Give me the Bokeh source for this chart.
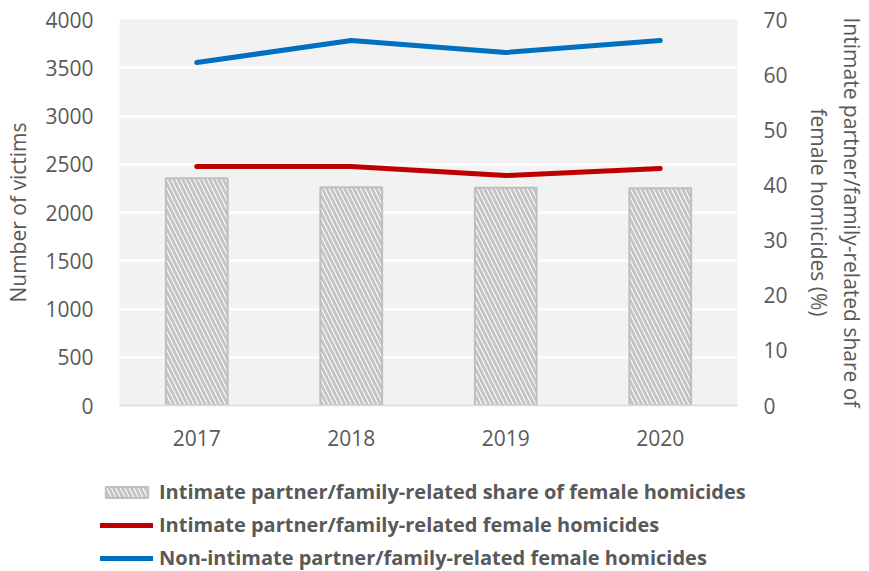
from bokeh.plotting import figure
from bokeh.layouts import column
from bokeh.models import (Range1d, LinearAxis, Legend, LegendItem, FixedTicker, ColumnDataSource,
                          FactorRange)
from bokeh.embed import file_html
from bokeh.resources import INLINE

years = ["2017", "2018", "2019", "2020"]
share_pct = [41.2, 39.6, 39.5, 39.4]
ip_family = [2477, 2477, 2383, 2456]
non_ip = [3554, 3782, 3658, 3782]
labels = ["Intimate partner/family-related share of female homicides",
          "Intimate partner/family-related female homicides",
          "Non-intimate partner/family-related female homicides"]

FONT = "Open Sans"
GREY = "#595959"
FS = "21px"
BAR = dict(fill_color="white", line_color="#bfbfbf", line_width=2,
           hatch_pattern="\\", hatch_color="#c4c4c4", hatch_scale=9, hatch_weight=3)
RED = dict(line_color="#c00000", line_width=5, line_cap="round")
BLUE = dict(line_color="#0070c0", line_width=5, line_cap="round")

p = figure(x_range=years, y_range=Range1d(0, 4000), width=869, height=465,
           output_backend="svg", toolbar_location=None,
           min_border_left=119, min_border_right=111, min_border_top=19, min_border_bottom=60)
p.extra_y_ranges = {"pct": Range1d(0, 70)}
p.background_fill_color = "#f2f2f2"
p.border_fill_color = "white"
p.outline_line_color = None

src = ColumnDataSource(dict(x=years, share=share_pct, ip=ip_family, non=non_ip))
p.vbar(x="x", top="share", width=0.4, source=src, y_range_name="pct", **BAR)
p.line(x="x", y="ip", source=src, **RED)
p.line(x="x", y="non", source=src, **BLUE)

p.xgrid.grid_line_color = None
p.ygrid.grid_line_color = "white"
p.ygrid.grid_line_width = 2
p.yaxis.ticker = FixedTicker(ticks=list(range(0, 4001, 500)))

p.yaxis[0].axis_label = "Number of victims"
ra = LinearAxis(y_range_name="pct", ticker=FixedTicker(ticks=list(range(0, 71, 10))),
                axis_label="Intimate partner/family-related share of\nfemale homicides (%)")
p.add_layout(ra, "right")

for ax in p.yaxis + p.xaxis:
    ax.major_label_text_font = FONT
    ax.major_label_text_font_size = FS
    ax.major_label_text_color = GREY
    ax.axis_label_text_font = FONT
    ax.axis_label_text_font_size = FS
    ax.axis_label_text_color = GREY
    ax.axis_label_text_font_style = "normal"
    ax.major_tick_line_color = None
    ax.minor_tick_line_color = None
for ax in p.yaxis:
    ax.axis_line_color = None
    ax.major_label_standoff = 20
p.yaxis[0].axis_label_standoff = 10
ra.axis_label_standoff = 14
p.xaxis.axis_line_color = "#d9d9d9"
p.xaxis.axis_line_width = 1.5
p.xaxis.major_label_standoff = 18

# legend strip beneath the chart (its series lie outside the strip's visible range)
p2 = figure(width=869, height=106, x_range=FactorRange(factors=years), y_range=Range1d(10000, 10001),
            x_axis_type=None, y_axis_type=None, output_backend="svg", toolbar_location=None,
            min_border=0)
p2.outline_line_color = None
p2.grid.visible = False
src2 = ColumnDataSource(dict(x=years, share=share_pct, ip=ip_family, non=non_ip))
r1 = p2.vbar(x="x", top="share", width=0, source=src2, **BAR)
r2 = p2.line(x="x", y="ip", source=src2, **RED)
r3 = p2.line(x="x", y="non", source=src2, **BLUE)

legend = Legend(items=[LegendItem(label=labels[0], renderers=[r1]),
                       LegendItem(label=labels[1], renderers=[r2]),
                       LegendItem(label=labels[2], renderers=[r3])],
                orientation="vertical", location=(100, 0))
legend.label_text_font = FONT
legend.label_text_font_size = "20px"
legend.label_text_font_style = "bold"
legend.label_text_color = GREY
legend.glyph_width = 53
legend.glyph_height = 14
legend.label_height = 22
legend.spacing = 6
legend.label_standoff = 6
legend.border_line_color = None
legend.background_fill_alpha = 0
legend.padding = 0
legend.margin = 0
p2.add_layout(legend, "center")

open("out.html", "w").write(file_html(column(p, column(p2)), INLINE))
